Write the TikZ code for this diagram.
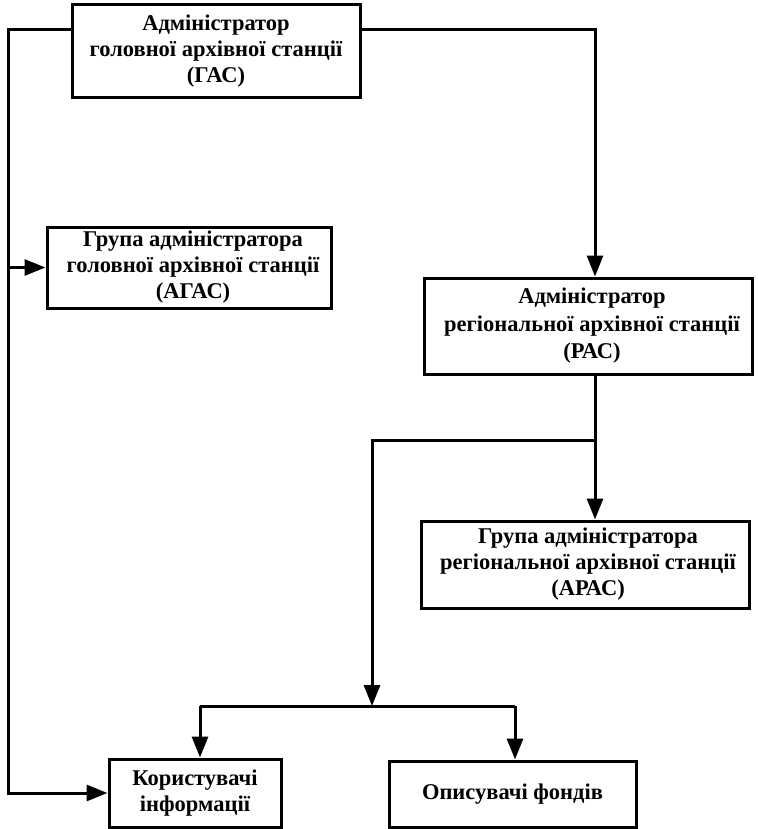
\documentclass[tikz,border=0pt]{standalone}
\usepackage{fontspec}
\setmainfont{Liberation Serif}
\usetikzlibrary{arrows.meta}
\begin{document}
\begin{tikzpicture}[x=1pt,y=-1pt,
  unit/.style={draw,line width=3pt,inner sep=0pt,align=center,
    font=\fontsize{22.5}{26}\selectfont\bfseries},
  wide/.style={font=\fontsize{22.5}{27.5}\selectfont\bfseries},
  link/.style={line width=3pt},
  arr/.style={link,-{Triangle[length=21pt,width=16pt]}}]
\useasboundingbox (0,0) rectangle (757,829);

\node[unit,minimum width=288,minimum height=93] (gas) at (216,51.5)
  {Адміністратор\\головної архівної станції\\(ГАС)};
\node[unit,minimum width=284,minimum height=81] (agas) at (189,267.5)
  {\hspace*{8pt}Група адміністратора\\\hspace*{8pt}головної архівної станції\\\hspace*{8pt}(АГАС)};
\node[unit,wide,minimum width=328,minimum height=96] (ras) at (588,326)
  {\hspace*{8pt}Адміністратор\\\hspace*{8pt}регіональної архівної станції\\\hspace*{8pt}(РАС)};
\node[unit,minimum width=328,minimum height=87] (aras) at (585,564.5)
  {\hspace*{6pt}Група адміністратора\\\hspace*{6pt}регіональної архівної станції\\\hspace*{6pt}(АРАС)};
\node[unit,minimum width=172,minimum height=68] (users) at (195,793)
  {Користувачі\\інформації};
\node[unit,minimum width=247,minimum height=66] (desc) at (512.5,794)
  {Описувачі фондів};

% routing points
\coordinate (top) at (0,30);
\coordinate (lx) at (8,0);
\coordinate (rx) at (595,0);
\coordinate (mx) at (372,0);
\coordinate (bus) at (0,706);
\coordinate (split) at (595,440);
\coordinate (bl) at (200,706);
\coordinate (br) at (515,706);

% left trunk: ГАС -> АГАС and users
\draw[arr] (gas.west |- top) -| (lx |- users.west) -- (users.west);
\draw[arr] (lx |- agas.west) -- (agas.west);

% right trunk: ГАС -> РАС -> АРАС
\draw[arr] (gas.east |- top) -| (rx |- ras.north);
\draw[arr] (rx |- ras.south) -- (rx |- aras.north);

% branch from РАС down to the lower bus
\draw[arr] (split) -| (mx |- bus);
\draw[link] (bl) -- (br);
\draw[arr] (bl) -- (bl |- users.north);
\draw[arr] (br) -- (br |- desc.north);
\end{tikzpicture}
\end{document}
